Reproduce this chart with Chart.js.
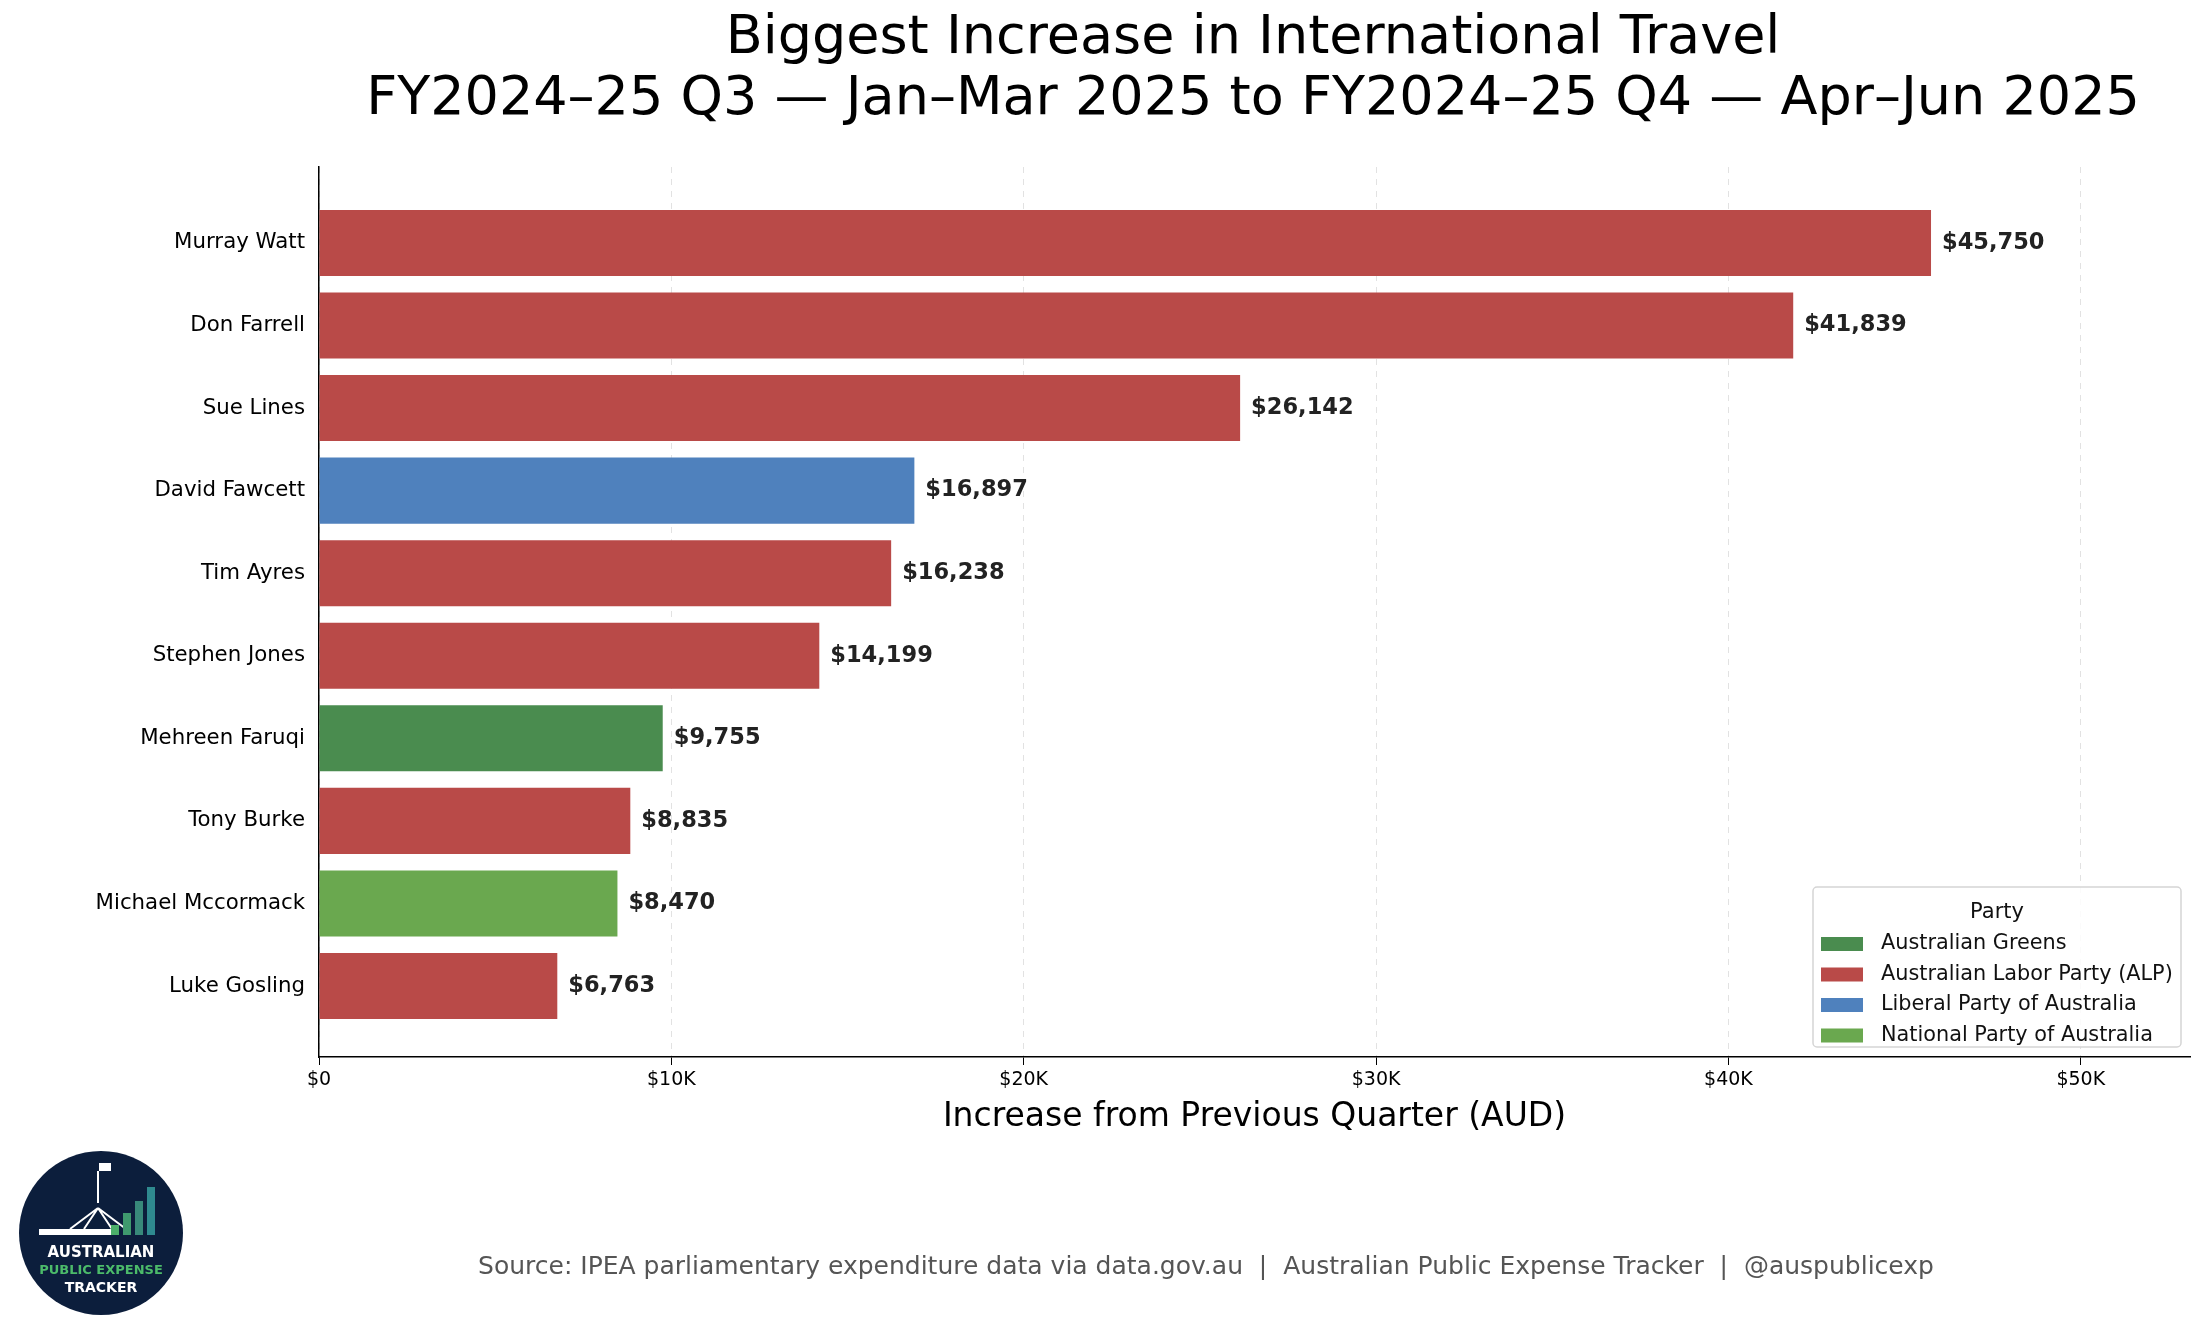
<!DOCTYPE html>
<html><head><meta charset="utf-8">
<script src="https://cdn.jsdelivr.net/npm/chart.js@4"></script>
<style>html,body{margin:0;padding:0;background:#fff}#c{display:block}</style>
</head><body>
<div style="width:2205px;height:1337px"><canvas id="c"></canvas></div>
<script>
const names = ["Murray Watt","Don Farrell","Sue Lines","David Fawcett","Tim Ayres","Stephen Jones","Mehreen Faruqi","Tony Burke","Michael Mccormack","Luke Gosling"];
const values = [45750,41839,26142,16897,16238,14199,9755,8835,8470,6763];
const memberParty = ["ALP","ALP","ALP","LIB","ALP","ALP","GRN","ALP","NAT","ALP"];
const partyKeys = ["GRN","ALP","LIB","NAT"];
const partyNames = ["Australian Greens","Australian Labor Party (ALP)","Liberal Party of Australia","National Party of Australia"];
const partyColors = ["#4a8c4f","#b94a48","#4f81bd","#6aa84f"];
const xTicks = [0,10000,20000,30000,40000,50000];
const xTickLabels = ["$0","$10K","$20K","$30K","$40K","$50K"];
const titleLines = ["Biggest Increase in International Travel","FY2024–25 Q3 — Jan–Mar 2025 to FY2024–25 Q4 — Apr–Jun 2025"];
const xTitle = "Increase from Previous Quarter (AUD)";
const sourceText = "Source: IPEA parliamentary expenditure data via data.gov.au  |  Australian Public Expense Tracker  |  @auspublicexp";

const colorOf = p => partyColors[partyKeys.indexOf(p)];
const F = "'DejaVu Sans', sans-serif";

const deco = {
  id:'deco',
  afterDatasetsDraw(chart){
    const ctx = chart.ctx, ca = chart.chartArea;
    const meta = chart.getDatasetMeta(0);
    ctx.save();
    ctx.fillStyle='#222'; ctx.font='bold 22.5px '+F; ctx.textBaseline='middle'; ctx.textAlign='left';
    meta.data.forEach((b,i)=>{ ctx.fillText('$'+values[i].toLocaleString('en-US'), b.x+11, b.y); });
    // title
    ctx.fillStyle='#000'; ctx.textAlign='center'; ctx.font='54px '+F;
    ctx.fillText(titleLines[0], 1253, 39);
    ctx.fillText(titleLines[1], 1253, 100);
    ctx.font='33px '+F; ctx.fillText(xTitle, (ca.left+ca.right)/2, 1117);
    ctx.font='25px '+F; ctx.fillStyle='#555'; ctx.fillText(sourceText, 1206, 1267);
    // legend
    const lx=1813, ly=887, lw=368, lh=160;
    ctx.fillStyle='rgba(255,255,255,0.85)'; ctx.strokeStyle='#d5d5d5'; ctx.lineWidth=1.5;
    ctx.beginPath(); ctx.roundRect(lx,ly,lw,lh,4); ctx.fill(); ctx.stroke();
    ctx.fillStyle='#111'; ctx.font='21px '+F; ctx.fillText('Party', lx+lw/2, ly+26);
    ctx.font='20.8px '+F; ctx.textAlign='left';
    partyNames.forEach((n,i)=>{
      const y = ly+57+i*30.5;
      ctx.fillStyle=partyColors[i]; ctx.fillRect(lx+8,y-7,42,14);
      ctx.fillStyle='#111'; ctx.fillText(n, lx+68, y);
    });
    // logo
    const cx=101, cy=1233, r=82;
    ctx.fillStyle='#0c1e3c'; ctx.beginPath(); ctx.arc(cx,cy,r,0,Math.PI*2); ctx.fill();
    ctx.strokeStyle='#fff'; ctx.lineWidth=2;
    ctx.beginPath(); ctx.moveTo(cx-3,cy-62); ctx.lineTo(cx-3,cy-30); ctx.stroke();
    ctx.fillStyle='#fff'; ctx.fillRect(cx-2,cy-70,12,8);
    ctx.beginPath();
    [-28,-14,14,28].forEach(d=>{ctx.moveTo(cx-3,cy-25); ctx.lineTo(cx-3+d,cy-4);});
    ctx.stroke();
    ctx.fillRect(cx-62,cy-4,72,6);
    const bars=[[10,10,'#4caf6a'],[22,22,'#3f9a6e'],[34,34,'#38897a'],[46,48,'#2f8a8f']];
    bars.forEach(([dx,h,c])=>{ctx.fillStyle=c; ctx.fillRect(cx+dx,cy+2-h,8,h);});
    ctx.textAlign='center'; ctx.font='bold 15px '+F;
    ctx.fillStyle='#fff'; ctx.fillText('AUSTRALIAN',cx,cy+20);
    ctx.fillStyle='#4cbb6a'; ctx.font='bold 13px '+F; ctx.fillText('PUBLIC EXPENSE',cx,cy+38);
    ctx.fillStyle='#fff'; ctx.font='bold 14px '+F; ctx.fillText('TRACKER',cx,cy+55);
    ctx.restore();
  }
};

new Chart(document.getElementById('c'),{
  type:'bar',
  data:{datasets:[{data:values.map((v,i)=>({x:v,y:i})),backgroundColor:memberParty.map(colorOf),barPercentage:0.8,categoryPercentage:1}]},
  options:{
    indexAxis:'y', responsive:true, maintainAspectRatio:false, animation:false,
    layout:{padding:{top:167,right:15,left:0,bottom:0}},
    plugins:{legend:{display:false},tooltip:{enabled:false}},
    scales:{
      y:{type:'linear',reverse:true,min:-0.92,max:9.86,offset:false,
        afterBuildTicks:s=>{s.ticks=names.map((_,i)=>({value:i}));},
        afterFit:s=>{s.width=319;},
        grid:{display:false,drawTicks:true,tickLength:8,color:'#000'},
        border:{display:true,color:'#000',width:1.5},
        ticks:{callback:v=>names[v],color:'#000',font:{size:21.3,family:F},padding:6}},
      x:{type:'linear',min:0,max:53100,
        afterBuildTicks:s=>{s.ticks=xTicks.map(v=>({value:v}));},
        afterFit:s=>{s.height=280;},
        grid:{color:'#e2e2e2',lineWidth:1,tickLength:8,tickColor:'#000',drawOnChartArea:true},
        border:{display:true,color:'#000',width:1.5,dash:[6,6]},
        ticks:{callback:(v)=>xTickLabels[xTicks.indexOf(v)],color:'#000',font:{size:19,family:F},padding:4,maxRotation:0}}
    }
  },
  plugins:[deco]
});
</script></body></html>
